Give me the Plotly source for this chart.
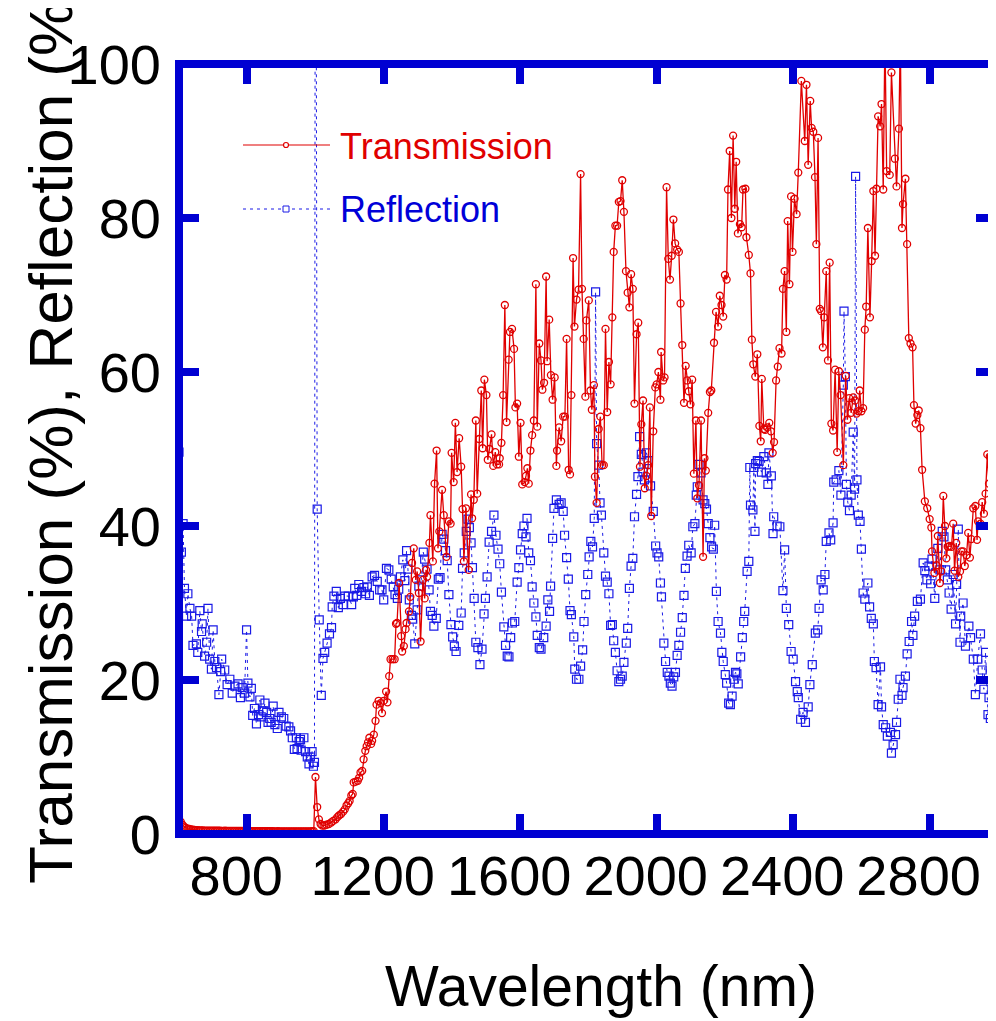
import plotly.graph_objects as go

# ---------------- data ----------------
transmission_points = [
    (600, 2.2), (605, 1.6), (610, 1.2), (615, 0.95), (620, 0.8), (625, 0.7), (630, 0.65), (635, 0.6),
    (640, 0.55), (645, 0.52), (650, 0.5), (655, 0.5), (660, 0.48), (665, 0.47), (670, 0.46), (675, 0.45),
    (680, 0.45), (685, 0.44), (690, 0.44), (695, 0.43), (700, 0.43), (705, 0.42), (710, 0.42), (715, 0.43),
    (720, 0.42), (725, 0.41), (730, 0.41), (735, 0.42), (740, 0.41), (745, 0.4), (750, 0.4), (755, 0.41),
    (760, 0.4), (765, 0.4), (770, 0.39), (775, 0.4), (780, 0.39), (785, 0.39), (790, 0.4), (795, 0.38),
    (800, 0.39), (805, 0.38), (810, 0.38), (815, 0.37), (820, 0.38), (825, 0.37), (830, 0.37), (835, 0.38),
    (840, 0.37), (845, 0.36), (850, 0.36), (855, 0.37), (860, 0.36), (865, 0.36), (870, 0.37), (875, 0.36),
    (880, 0.35), (885, 0.35), (890, 0.36), (895, 0.35), (900, 0.35), (905, 0.35), (910, 0.34), (915, 0.35),
    (920, 0.34), (925, 0.34), (930, 0.33), (935, 0.34), (940, 0.34), (945, 0.33), (950, 0.34), (955, 0.33),
    (960, 0.34), (965, 0.33), (970, 0.34), (975, 0.34), (980, 0.35), (985, 0.34), (990, 0.36), (995, 0.38),
    (1000, 7.4), (1005, 3.5), (1010, 1.9), (1015, 1.3), (1020, 1.1), (1026, 1.1), (1032, 1.2), (1039, 1.3),
    (1046, 1.5), (1052, 1.7), (1059, 1.9), (1064, 2.2), (1069, 2.4), (1075, 2.6), (1081, 2.9), (1086, 3.2),
    (1091, 3.7), (1096, 4.0), (1100, 4.3), (1105, 5.0), (1109, 5.2), (1112, 6.7), (1118, 6.8), (1124, 6.9),
    (1128, 7.3), (1132, 8.0), (1137, 8.2), (1141, 9.7), (1146, 10.8), (1150, 11.4), (1154, 11.9), (1158, 12.5),
    (1163, 11.7), (1166, 12.1), (1171, 12.9), (1176, 14.7), (1179, 16.8), (1185, 17.3), (1191, 17.0), (1195, 15.7),
    (1200, 17.3), (1207, 18.5), (1211, 17.1), (1216, 20.5), (1220, 22.7), (1226, 22.7), (1232, 22.7), (1236, 27.3),
    (1239, 27.4), (1245, 32.6), (1251, 25.7), (1254, 23.7), (1259, 24.4), (1264, 26.6), (1267, 27.4), (1274, 28.9),
    (1278, 30.8), (1283, 35.2), (1288, 37.1), (1294, 33.0), (1298, 34.1), (1303, 31.3), (1308, 25.0), (1315, 33.0),
    (1320, 30.6), (1324, 34.3), (1327, 33.4), (1334, 37.8), (1337, 41.4), (1344, 35.4), (1349, 45.5), (1355, 49.8),
    (1359, 37.1), (1363, 39.3), (1371, 44.7), (1376, 41.4), (1384, 36.0), (1391, 40.6), (1396, 40.3), (1399, 49.5),
    (1405, 45.7), (1410, 53.4), (1415, 47.0), (1421, 51.4), (1427, 47.7), (1431, 42.2), (1435, 35.4), (1441, 42.3),
    (1449, 34.3), (1456, 44.1), (1459, 41.0), (1464, 43.4), (1470, 53.7), (1474, 44.2), (1480, 51.3), (1486, 57.6),
    (1490, 50.1), (1495, 59.0), (1501, 57.0), (1505, 48.6), (1510, 50.0), (1516, 51.9), (1521, 47.8), (1527, 49.6),
    (1532, 48.0), (1538, 48.0), (1540, 48.8), (1545, 50.8), (1550, 57.0), (1555, 68.7), (1560, 53.5), (1566, 61.6),
    (1570, 65.2), (1576, 65.6), (1582, 63.0), (1586, 55.4), (1591, 55.9), (1596, 49.0), (1601, 53.4), (1606, 45.4),
    (1613, 45.7), (1617, 46.5), (1621, 47.5), (1625, 45.5), (1630, 49.8), (1635, 51.8), (1640, 53.7), (1646, 71.4),
    (1650, 52.9), (1656, 63.7), (1661, 61.5), (1665, 57.7), (1670, 58.6), (1676, 72.4), (1679, 61.4), (1685, 66.8),
    (1690, 59.6), (1695, 56.4), (1701, 59.3), (1706, 47.8), (1708, 49.8), (1714, 52.8), (1720, 51.0), (1726, 54.2),
    (1731, 54.2), (1736, 64.3), (1742, 47.3), (1746, 46.7), (1750, 57.0), (1755, 74.8), (1759, 65.9), (1765, 69.4),
    (1771, 70.7), (1777, 85.7), (1781, 70.8), (1786, 64.3), (1791, 56.8), (1794, 66.7), (1801, 69.3), (1806, 57.6),
    (1810, 55.1), (1816, 58.3), (1819, 46.4), (1824, 43.0), (1830, 52.6), (1835, 54.2), (1840, 47.9), (1845, 47.9),
    (1850, 65.6), (1855, 54.8), (1860, 61.3), (1865, 58.4), (1870, 67.1), (1874, 75.6), (1879, 79.0), (1884, 79.0),
    (1889, 82.1), (1894, 82.2), (1899, 84.9), (1904, 80.8), (1910, 73.1), (1915, 70.3), (1920, 68.4), (1925, 72.7),
    (1930, 70.8), (1935, 55.9), (1941, 64.9), (1946, 66.4), (1951, 47.7), (1955, 53.2), (1960, 56.3), (1965, 44.9),
    (1970, 46.5), (1975, 47.9), (1980, 55.4), (1984, 41.3), (1990, 52.3), (1996, 58.0), (2000, 58.4), (2005, 60.0),
    (2011, 56.4), (2013, 62.6), (2019, 58.9), (2023, 59.3), (2029, 84.0), (2034, 74.7), (2039, 72.0), (2044, 75.1),
    (2049, 79.8), (2054, 76.7), (2060, 75.9), (2065, 75.6), (2070, 68.9), (2075, 63.5), (2080, 56.0), (2085, 60.8),
    (2089, 58.9), (2094, 57.5), (2099, 55.8), (2104, 59.0), (2109, 46.8), (2115, 53.7), (2119, 43.6), (2124, 45.3),
    (2130, 53.7), (2136, 36.0), (2140, 48.8), (2144, 47.2), (2151, 54.7), (2156, 57.4), (2160, 57.6), (2168, 63.8),
    (2174, 67.8), (2180, 65.9), (2185, 69.9), (2190, 68.7), (2195, 67.2), (2200, 72.6), (2205, 72.0), (2209, 83.7),
    (2214, 88.7), (2219, 80.0), (2224, 90.7), (2229, 81.2), (2233, 87.3), (2238, 78.0), (2244, 79.2), (2249, 78.8),
    (2253, 83.7), (2260, 83.8), (2263, 77.5), (2270, 75.2), (2275, 72.8), (2279, 64.2), (2283, 61.0), (2289, 59.4),
    (2295, 62.3), (2301, 53.0), (2305, 51.0), (2308, 59.1), (2314, 52.6), (2318, 52.5), (2324, 52.8), (2330, 53.4),
    (2335, 52.3), (2340, 49.5), (2344, 50.9), (2350, 58.9), (2355, 60.7), (2360, 63.1), (2366, 62.4), (2370, 70.8),
    (2375, 73.1), (2380, 65.2), (2384, 79.6), (2389, 71.4), (2394, 82.8), (2398, 75.6), (2404, 82.5), (2410, 80.5),
    (2415, 85.9), (2424, 97.8), (2434, 90.0), (2439, 97.3), (2444, 86.9), (2450, 95.2), (2454, 91.7), (2459, 91.2),
    (2464, 85.3), (2468, 76.6), (2473, 90.4), (2478, 68.2), (2482, 67.9), (2487, 63.2), (2491, 67.1), (2497, 73.1),
    (2502, 61.5), (2507, 74.2), (2512, 53.3), (2517, 52.4), (2523, 60.3), (2529, 49.6), (2534, 60.1), (2539, 57.0),
    (2547, 47.9), (2554, 59.5), (2559, 53.8), (2564, 56.6), (2570, 54.7), (2576, 56.7), (2581, 56.3), (2586, 54.6),
    (2591, 54.9), (2595, 57.6), (2600, 54.9), (2605, 55.3), (2610, 65.5), (2614, 68.5), (2619, 78.7), (2625, 67.1),
    (2630, 74.4), (2635, 83.5), (2640, 75.1), (2644, 83.8), (2649, 93.2), (2655, 91.9), (2659, 94.8), (2664, 83.7),
    (2669, 104.0), (2674, 86.1), (2683, 85.6), (2688, 98.9), (2698, 87.7), (2703, 84.1), (2710, 91.6), (2714, 104.0),
    (2719, 78.7), (2722, 81.8), (2729, 85.1), (2734, 76.6), (2739, 64.4), (2744, 63.7), (2750, 63.2), (2754, 55.7),
    (2759, 53.3), (2764, 54.4), (2768, 55.0), (2773, 52.7), (2778, 47.3), (2786, 43.2), (2793, 42.3), (2800, 40.9),
    (2805, 39.8), (2807, 36.7), (2814, 33.9), (2820, 34.9), (2824, 38.7), (2830, 32.6), (2834, 34.1), (2840, 43.9),
    (2845, 40.0), (2849, 35.8), (2853, 37.3), (2859, 37.4), (2864, 37.3), (2869, 40.3), (2873, 34.2), (2878, 37.8),
    (2884, 33.4), (2889, 34.1), (2893, 36.7), (2898, 36.7), (2903, 34.8), (2908, 36.2), (2913, 39.1), (2918, 35.9),
    (2922, 38.3), (2928, 42.3), (2934, 42.6), (2939, 38.2), (2942, 40.6), (2949, 40.3), (2954, 43.1), (2959, 41.6),
    (2964, 44.2), (2969, 49.3), (2974, 45.5), (2976, 49.0), (2983, 47.2), (2988, 50.9), (2993, 52.6), (2996, 60.6),
]

reflection_points = [
    (600, 49.6), (607, 36.6), (612, 40.3), (616, 31.9), (622, 28.3), (626, 31.2), (632, 29.3), (637, 28.3),
    (641, 24.5), (651, 24.7), (655, 23.6), (661, 29.0), (666, 26.3), (668, 27.3), (675, 23.1), (681, 24.9),
    (685, 29.3), (690, 22.7), (695, 21.4), (700, 26.5), (705, 22.4), (710, 21.6), (717, 18.1), (722, 21.1),
    (725, 22.7), (734, 21.3), (741, 19.4), (749, 20.1), (756, 18.3), (764, 19.2), (773, 19.5), (780, 17.7),
    (785, 19.0), (792, 18.3), (798, 26.5), (802, 19.6), (808, 17.8), (812, 18.9), (816, 15.4), (821, 16.3),
    (827, 14.3), (833, 15.5), (837, 17.4), (841, 15.2), (847, 16.0), (852, 17.0), (857, 15.8), (861, 14.5),
    (866, 15.0), (870, 14.5), (876, 16.6), (881, 14.2), (888, 13.7), (893, 15.8), (900, 15.2), (907, 15.0),
    (914, 14.0), (922, 13.9), (927, 13.4), (932, 12.5), (938, 11.0), (944, 12.5), (946, 11.1), (952, 12.0),
    (956, 12.3), (958, 10.9), (966, 12.5), (971, 10.7), (976, 10.0), (981, 9.1), (985, 10.0), (990, 10.7),
    (994, 8.8), (997, 9.3), (1000, 160.0), (1005, 42.2), (1011, 27.8), (1017, 18.0), (1022, 22.8), (1027, 23.6),
    (1034, 24.8), (1041, 26.0), (1047, 26.8), (1049, 29.5), (1054, 30.9), (1061, 31.5), (1067, 29.4), (1073, 30.6),
    (1081, 29.8), (1086, 30.9), (1096, 30.9), (1106, 29.8), (1111, 30.8), (1115, 31.9), (1121, 31.0), (1127, 32.4),
    (1135, 31.5), (1142, 32.0), (1147, 31.2), (1152, 32.1), (1158, 31.0), (1166, 33.4), (1173, 33.6), (1181, 32.8),
    (1188, 31.7), (1195, 31.7), (1200, 30.4), (1208, 34.5), (1215, 34.3), (1222, 33.1), (1228, 32.1), (1233, 31.1),
    (1240, 30.6), (1244, 31.8), (1249, 33.4), (1256, 35.6), (1262, 32.9), (1267, 36.8), (1271, 34.4), (1275, 30.4),
    (1281, 28.4), (1285, 27.9), (1291, 24.7), (1298, 29.1), (1303, 32.2), (1310, 33.0), (1316, 36.6), (1320, 35.7),
    (1327, 34.4), (1333, 31.7), (1337, 28.9), (1342, 28.4), (1347, 27.0), (1354, 28.0), (1360, 33.1), (1365, 33.3),
    (1371, 38.9), (1376, 38.3), (1381, 36.8), (1386, 35.5), (1391, 31.1), (1397, 27.2), (1402, 25.6), (1407, 24.4),
    (1412, 23.7), (1420, 27.1), (1427, 28.7), (1431, 34.5), (1436, 36.5), (1442, 39.3), (1447, 40.9), (1451, 39.8),
    (1456, 37.8), (1460, 34.6), (1465, 30.6), (1470, 24.9), (1476, 24.2), (1482, 22.0), (1488, 24.0), (1494, 28.6),
    (1498, 30.6), (1503, 33.4), (1509, 37.9), (1516, 39.3), (1523, 41.4), (1529, 38.8), (1535, 37.0), (1540, 35.1),
    (1545, 31.4), (1552, 26.9), (1557, 24.5), (1562, 23.1), (1567, 23.0), (1572, 25.5), (1577, 27.4), (1584, 27.6),
    (1591, 32.7), (1596, 34.6), (1601, 36.9), (1606, 39.0), (1611, 40.0), (1617, 38.6), (1620, 41.0), (1625, 36.5),
    (1630, 35.5), (1635, 32.1), (1640, 30.0), (1646, 28.2), (1650, 25.8), (1656, 24.2), (1661, 24.0), (1669, 25.5),
    (1676, 27.0), (1681, 30.4), (1686, 28.9), (1689, 32.2), (1695, 38.4), (1699, 42.3), (1706, 43.4), (1714, 42.8),
    (1720, 43.0), (1726, 41.9), (1730, 38.8), (1736, 35.9), (1741, 33.1), (1746, 29.0), (1750, 28.5), (1757, 25.6),
    (1760, 21.4), (1765, 20.1), (1772, 20.1), (1777, 21.8), (1783, 23.9), (1787, 27.6), (1792, 31.1), (1798, 33.7),
    (1802, 36.0), (1807, 38.0), (1812, 37.3), (1817, 41.0), (1821, 70.4), (1824, 50.7), (1830, 47.9), (1834, 43.0),
    (1838, 41.4), (1845, 36.5), (1850, 33.5), (1855, 32.7), (1860, 31.2), (1865, 27.1), (1870, 27.2), (1874, 25.1),
    (1879, 23.6), (1884, 21.2), (1889, 19.8), (1894, 20.1), (1899, 20.5), (1904, 22.3), (1911, 24.8), (1915, 26.7),
    (1920, 31.9), (1925, 34.8), (1930, 35.8), (1935, 41.2), (1941, 44.1), (1945, 46.4), (1950, 51.6), (1955, 49.3),
    (1960, 47.0), (1964, 46.0), (1970, 49.5), (1975, 48.5), (1982, 45.2), (1990, 41.9), (1997, 37.4), (2001, 36.5),
    (2006, 36.0), (2011, 32.6), (2014, 30.8), (2021, 24.8), (2026, 22.4), (2031, 21.0), (2036, 20.5), (2040, 19.6),
    (2045, 19.2), (2050, 20.4), (2055, 21.0), (2060, 23.2), (2065, 24.5), (2070, 26.2), (2075, 28.1), (2080, 31.0),
    (2084, 34.5), (2089, 36.1), (2094, 37.5), (2101, 36.5), (2106, 39.9), (2112, 40.3), (2116, 44.0), (2119, 45.1),
    (2124, 48.0), (2130, 46.9), (2136, 43.4), (2141, 42.9), (2146, 42.2), (2151, 40.3), (2156, 38.5), (2161, 37.3),
    (2166, 37.0), (2170, 40.1), (2175, 31.5), (2180, 27.6), (2187, 26.1), (2191, 23.6), (2195, 22.4), (2201, 20.7),
    (2205, 19.6), (2211, 17.0), (2216, 16.8), (2221, 17.9), (2226, 20.1), (2231, 21.0), (2235, 20.8), (2239, 19.5),
    (2246, 23.0), (2251, 25.5), (2255, 27.6), (2258, 28.9), (2265, 34.1), (2270, 35.4), (2273, 47.6), (2275, 42.7),
    (2282, 42.1), (2285, 47.6), (2288, 39.3), (2290, 48.1), (2295, 48.5), (2300, 48.4), (2307, 47.0), (2314, 49.0),
    (2321, 46.9), (2326, 45.4), (2329, 49.5), (2336, 46.5), (2341, 39.0), (2343, 41.2), (2353, 40.0), (2361, 39.9),
    (2370, 31.6), (2375, 36.9), (2380, 29.3), (2387, 27.2), (2394, 23.7), (2400, 22.7), (2407, 19.8), (2412, 18.5),
    (2415, 17.7), (2422, 14.9), (2429, 15.8), (2436, 14.5), (2444, 16.5), (2449, 19.4), (2456, 22.0), (2465, 26.1),
    (2472, 26.5), (2476, 29.3), (2482, 33.0), (2488, 31.7), (2493, 33.7), (2497, 38.0), (2505, 39.1), (2510, 38.2),
    (2517, 40.4), (2519, 45.7), (2526, 46.0), (2534, 47.2), (2540, 44.0), (2547, 58.3), (2549, 67.9), (2553, 59.4),
    (2556, 45.4), (2560, 43.1), (2565, 42.0), (2570, 44.0), (2576, 52.2), (2580, 44.8), (2583, 85.4), (2587, 46.0),
    (2591, 41.4), (2596, 40.6), (2600, 37.0), (2605, 31.3), (2610, 30.5), (2619, 32.6), (2624, 29.5), (2629, 28.0),
    (2635, 27.3), (2638, 22.4), (2643, 21.6), (2649, 16.8), (2656, 21.7), (2659, 16.5), (2664, 14.2), (2671, 13.8),
    (2676, 12.7), (2685, 13.2), (2688, 10.5), (2693, 11.6), (2700, 12.9), (2703, 14.5), (2708, 17.5), (2713, 20.1),
    (2719, 18.0), (2722, 19.0), (2729, 20.5), (2734, 23.4), (2740, 25.0), (2747, 27.6), (2751, 25.8), (2756, 28.3),
    (2764, 30.2), (2773, 30.5), (2781, 35.2), (2786, 34.2), (2792, 33.0), (2798, 34.8), (2803, 32.5), (2807, 35.7),
    (2815, 30.6), (2824, 37.1), (2830, 34.3), (2837, 39.3), (2842, 38.6), (2847, 34.3), (2852, 33.0), (2857, 31.3),
    (2863, 29.2), (2869, 33.7), (2876, 27.3), (2879, 32.4), (2884, 39.6), (2889, 24.9), (2891, 28.3), (2898, 30.0),
    (2905, 24.4), (2915, 27.0), (2920, 25.5), (2928, 22.7), (2934, 18.1), (2941, 22.7), (2949, 26.0), (2954, 21.3),
    (2959, 18.8), (2964, 23.6), (2971, 15.5), (2974, 17.7), (2978, 15.0), (2985, 12.8), (2990, 14.2), (2996, 12.0),
]

t_wavelength = [p[0] for p in transmission_points]
t_percent = [p[1] for p in transmission_points]
r_wavelength = [p[0] for p in reflection_points]
r_percent = [p[1] for p in reflection_points]

x_ticks = [800, 1200, 1600, 2000, 2400, 2800]
y_ticks = [0, 20, 40, 60, 80, 100]
series_names = ["Transmission", "Reflection"]

# ---------------- styling ----------------
RED = "#e00000"
BLUE_FRAME = "#0000d2"
BLUE = "#1a1ae6"
FONT = "Liberation Sans, Arial, Helvetica, sans-serif"

OFF = 8  # page offset of the figure (body margin)
W, H = 996 - OFF, 1021 - OFF
ML, MR, MT, MB = 171, 0, 56, 187
PW, PH = W - ML - MR, H - MT - MB


def px_x(px):
    return (px - OFF - ML) / PW


def px_y(py):
    return (H - MB - (py - OFF)) / PH


fig = go.Figure()

fig.add_trace(go.Scatter(
    x=r_wavelength, y=r_percent, name=series_names[1], mode="lines+markers",
    line=dict(color=BLUE, width=1, dash="3px,4px"),
    marker=dict(symbol="square-open", size=8, color=BLUE, line=dict(width=1.2)),
    showlegend=False,
))
fig.add_trace(go.Scatter(
    x=t_wavelength, y=t_percent, name=series_names[0], mode="lines+markers",
    line=dict(color=RED, width=1.3),
    marker=dict(symbol="circle-open", size=7, color=RED, line=dict(width=1.3)),
    showlegend=False,
))

axis_common = dict(
    showgrid=False, zeroline=False, showline=False,
    ticks="inside", ticklen=20, tickwidth=8, tickcolor=BLUE_FRAME, mirror="ticks",
    tickfont=dict(family=FONT, size=56, color="black"),
)

fig.update_xaxes(range=[600, 600 + PW / 0.3412], tickvals=x_ticks, ticklabelshift=-11,
                 ticklabelstandoff=4, **axis_common)
fig.update_yaxes(range=[0, 100], tickvals=y_ticks, ticklabelstandoff=17, **axis_common)

shapes = [
    dict(type="rect", xref="paper", yref="paper", x0=0, x1=1, y0=0, y1=1,
         line=dict(color=BLUE_FRAME, width=8), layer="above"),
    # legend samples
    dict(type="line", xref="paper", yref="paper", x0=px_x(243), x1=px_x(330), y0=px_y(145), y1=px_y(145),
         line=dict(color=RED, width=1.2)),
    dict(type="circle", xref="paper", yref="paper", x0=px_x(283.5), x1=px_x(288.5), y0=px_y(147.5), y1=px_y(142.5),
         line=dict(color=RED, width=1.2), fillcolor="white"),
    dict(type="line", xref="paper", yref="paper", x0=px_x(243), x1=px_x(330), y0=px_y(209), y1=px_y(209),
         line=dict(color=BLUE, width=1, dash="3px,4px")),
    dict(type="rect", xref="paper", yref="paper", x0=px_x(283), x1=px_x(289), y0=px_y(212), y1=px_y(206),
         line=dict(color=BLUE, width=1), fillcolor="white"),
]

annotations = [
    dict(text=series_names[0], xref="paper", yref="paper", x=px_x(338), y=px_y(146), xanchor="left",
         yanchor="middle", showarrow=False, font=dict(family=FONT, size=36, color=RED)),
    dict(text=series_names[1], xref="paper", yref="paper", x=px_x(338), y=px_y(210), xanchor="left",
         yanchor="middle", showarrow=False, font=dict(family=FONT, size=36, color="#0000d8")),
    dict(text="Wavelength (nm)", xref="paper", yref="paper", x=px_x(601), y=px_y(986), xanchor="center",
         yanchor="middle", showarrow=False, font=dict(family=FONT, size=57, color="black")),
    dict(text="Transmission (%), Reflection (%)", xref="paper", yref="paper", x=px_x(50), y=px_y(432),
         xanchor="center", yanchor="middle", textangle=-90, showarrow=False,
         font=dict(family=FONT, size=62, color="black")),
]

fig.update_layout(
    width=W, height=H, autosize=False,
    margin=dict(l=ML, r=MR, t=MT, b=MB, pad=0),
    paper_bgcolor="white", plot_bgcolor="white",
    shapes=shapes, annotations=annotations,
    showlegend=False,
)

fig.write_html("out.html")
